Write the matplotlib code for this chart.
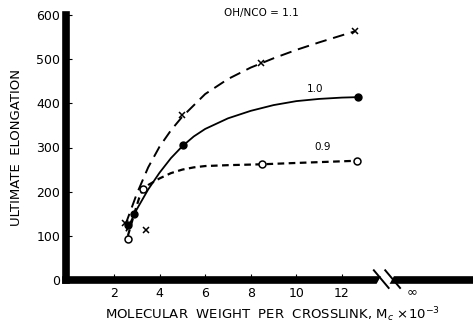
import matplotlib
matplotlib.use("Agg")
import matplotlib.pyplot as plt
from matplotlib.patches import Polygon

# curve traces (Mc x 10^-3, elongation)
c11_x = [2.5, 3.0, 3.5, 4.0, 4.5, 5.0, 6.0, 7.0, 8.0, 9.0, 10.0, 11.0, 12.0, 12.57]
c11_y = [125, 195, 255, 302, 339, 370, 421, 455, 481, 502, 521, 538, 554, 563]
c10_x = [2.55, 3.0, 3.5, 4.0, 4.5, 5.0, 5.5, 6.0, 7.0, 8.0, 9.0, 10.0, 11.0, 12.0, 12.7]
c10_y = [112, 160, 205, 243, 276, 303, 325, 342, 366, 383, 396, 405, 410, 413, 414]
c09_x = [2.61, 2.9, 3.1, 3.27, 3.5, 4.0, 4.5, 5.0, 5.5, 6.0, 7.0, 8.49, 10.0, 12.66]
c09_y = [100, 152, 185, 205, 215, 230, 242, 250, 255, 258, 260, 262, 265, 270]

# marked points
p11_x = [2.5, 3.4, 4.98, 8.45, 12.57]
p11_y = [130, 113, 373, 491, 564]
p10_x = [2.6, 2.9, 5.02, 12.7]
p10_y = [125, 150, 305, 414]
p09_x = [2.61, 3.27, 8.49, 12.66]
p09_y = [93, 207, 262, 270]

xticks = [2, 4, 6, 8, 10, 12]
yticks = [0, 100, 200, 300, 400, 500, 600]

fig = plt.figure(figsize=(4.73, 3.29), dpi=100)
W, H = 473, 329
ax = fig.add_axes([66 / W, (H - 280) / H, (W - 66) / W, (280 - 15) / H])
ax.set_xlim(-0.105, 17.75)
ax.set_ylim(0, 600)

ax.plot(c11_x, c11_y, color="black", lw=1.4, dashes=(6, 3.5))
ax.plot(c10_x, c10_y, color="black", lw=1.3)
ax.plot(c09_x, c09_y, color="black", lw=1.6, dashes=(3, 2))

ax.plot(p11_x, p11_y, ls="none", marker="x", ms=5, mew=1.1, color="black")
ax.plot(p10_x, p10_y, ls="none", marker="o", ms=5, color="black")
ax.plot(p09_x, p09_y, ls="none", marker="o", ms=5, mfc="white", mec="black", mew=1.1)

ax.text(8.45, 604, "OH/NCO = 1.1", ha="center", va="center", fontsize=7.5)
ax.text(10.8, 432, "1.0", ha="center", va="center", fontsize=7.5)
ax.text(11.17, 302, "0.9", ha="center", va="center", fontsize=7.5)

for s in ["top", "right"]:
    ax.spines[s].set_visible(False)
ax.spines["left"].set_linewidth(5.5)
ax.spines["bottom"].set_linewidth(5.5)
ax.spines["left"].set_capstyle("projecting")

ax.set_xticks(xticks)
ax.set_yticks(yticks)
ax.tick_params(direction="in", length=4, width=0.8, labelsize=9, pad=5)
ax.tick_params(axis="y", pad=4)

# axis break and infinity label
brk = 13.75
ax.add_patch(Polygon([[brk - 0.25, -14], [brk + 0.25, -14], [brk + 0.55, 14], [brk + 0.05, 14]],
                     closed=True, color="white", clip_on=False, zorder=5))
for dx in (0.0, 0.5):
    ax.plot([brk - 0.35 + dx, brk + 0.3 + dx], [22, -18], color="black", lw=1.4,
            clip_on=False, zorder=6)
ax.text(15.1, -27, "\u221e", ha="center", va="center", fontsize=9.5)

ax.set_xlabel("MOLECULAR  WEIGHT  PER  CROSSLINK, M$_c$ \u00d710$^{-3}$", fontsize=9.5)
ax.xaxis.set_label_coords(0.507, -0.095)
ax.set_ylabel("ULTIMATE  ELONGATION", fontsize=9.5)
ax.yaxis.set_label_coords(-0.105, 0.5)

fig.savefig("out.png", dpi=100)
